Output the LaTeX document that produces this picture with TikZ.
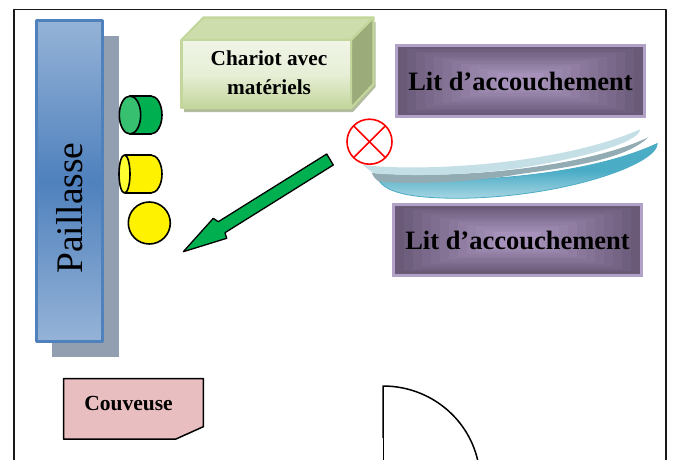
\documentclass[tikz,border=0pt]{standalone}
\usepackage{fontspec}
\setmainfont{Liberation Serif}
\definecolor{paillasseblue}{HTML}{4F81BD}
\definecolor{paillasselight}{HTML}{95B3D7}
\definecolor{shadowgrey}{HTML}{929FB0}
\definecolor{chariotedge}{HTML}{C3D69B}
\definecolor{chariottop}{HTML}{CDDDAC}
\definecolor{chariotside}{HTML}{9BAB7A}
\definecolor{chariotshadow}{HTML}{B4BC9E}
\definecolor{litdark}{HTML}{6A5A78}
\definecolor{litlight}{HTML}{A591B9}
\definecolor{litedge}{HTML}{B3A2C7}
\definecolor{couveusepink}{HTML}{E8BEC1}
\definecolor{arrowgreen}{HTML}{00B050}
\definecolor{cylgreen}{HTML}{36C070}
\definecolor{cylyellow}{HTML}{FFFF30}
\definecolor{rideaublue}{HTML}{4BACC6}
\definecolor{rideaulight}{HTML}{A5D5E2}
\definecolor{rideaugrey}{HTML}{93ACB4}
\definecolor{rideaupale}{HTML}{C4DFE6}
\tikzset{
	label big/.style={font=\fontsize{26.5}{30}\selectfont\bfseries,text=black},
	label small/.style={font=\fontsize{21.3}{29}\selectfont\bfseries,text=black,align=center},
	obj/.style={draw=black,line width=1.6pt}
}
\begin{document}
\begin{tikzpicture}[x=1pt,y=-1pt,line join=round]
		\useasboundingbox (0,0) rectangle (675,460);
		\clip (0,0) rectangle (675,460);
		% room and door
		\draw[line width=1.9pt,black!90] (14,470)--(14,9.5)--(666,9.5)--(666,470);
		\draw[line width=1.5pt] (383,438)--(383,386) arc[start angle=-90,end angle=0,x radius=97,y radius=95];
		\draw[line width=.7pt] (383,438)--(383,470);
		% paillasse
		\fill[shadowgrey] (52,36) rectangle (119,357);
		\shade[top color=paillasselight,bottom color=paillasselight,middle color=paillasseblue] (36.5,20.5) rectangle (102.5,341.5);
		\draw[paillasseblue,line width=2.2pt] (36.5,20.5) rectangle (102.5,341.5);
		\node[rotate=90,font=\fontsize{37.5}{37}\selectfont] (paillasse) at (70,208) {Paillasse};
		% cylinders and ball
		\draw[obj,fill=arrowgreen] (130,96)--(151,96) arc[start angle=-90,end angle=90,x radius=11,y radius=19]--(130,134)--cycle;
		\draw[obj,fill=cylgreen] (130,115) ellipse [x radius=10.7,y radius=19];
		\draw[obj,fill=yellow] (125,155)--(151,155) arc[start angle=-90,end angle=90,x radius=11,y radius=19]--(125,193)--cycle;
		\draw[obj,fill=cylyellow] (124.5,174) ellipse [x radius=5.5,y radius=19];
		\draw[obj,fill=yellow] (149.3,223) circle (21);
		% chariot
		\fill[chariotshadow] (184,44)--(375.6,22)--(375.6,87)--(353,112)--(184,112)--cycle;
		\draw[chariotedge,line width=2.2pt,fill=chariottop] (181.5,40)--(203.5,17.5)--(373.5,17.5)--(351,40)--cycle;
		\draw[chariotedge,line width=2.2pt,fill=chariotside] (351,40)--(373.5,17.5)--(373.5,84)--(351,108)--cycle;
		\shade[shading angle=60,bottom color=chariotedge,top color=chariotedge!25,middle color=chariotedge!40] (181.5,40) rectangle (351,108);
		\draw[chariotedge,line width=2.2pt] (181.5,40) rectangle (351,108);
		\node[label small] (chariot) at (269,73) {Chariot avec\\matériels};
		% lits
		\foreach \bx/\by/\nm in {395/44/lita,392/202.5/litb}{
			\begin{scope}[shift={(\bx,\by)}]
			\fill[litedge] (0,0) rectangle (250.5,74);
			\foreach \i in {0,...,11}{
				\pgfmathsetmacro\p{100*\i/11}
				\fill[litlight!\p!litdark] ({3+\i*9},{3+\i*2.4}) rectangle ({247.5-\i*9},{71-\i*2.4});
			};
			\node[label big] (\nm) at (125.5,37.5) {Lit d’accouchement};
			\end{scope}};
		% croix
		\draw[red,line width=1.6pt] (369.5,141.7) circle (22.5);
		\draw[red,line width=1.6pt] (369.5,141.7)+(-15.9,-15.9)--+(15.9,15.9) (369.5,141.7)+(-15.9,15.9)--+(15.9,-15.9);
		% rideau
		\shade[top color=rideaublue,bottom color=rideaulight,middle color=rideaublue,draw=rideaublue,line width=.8pt] (377.7,178.3) .. controls (470,185) and (590,175) .. (657.3,143.5) .. controls (657,165) and (560,198) .. (456.7,198.3) .. controls (420,198) and (385,195) .. cycle;
		\fill[rideaugrey] (371.7,173) .. controls (470,180) and (590,165) .. (648.3,137.3) .. controls (630,155) and (590,165) .. (520,174) .. controls (470,183) and (400,185) .. (378,181) .. controls (375,179) and (373,176) .. cycle;
		\fill[rideaupale] (362.7,165) .. controls (420,172) and (560,165) .. (640,129.3) .. controls (640,140) and (600,155) .. (520,168) .. controls (470,175) and (410,177) .. (373,173)--cycle;
		% couveuse
		\draw[line width=1.5pt,fill=couveusepink] (63.5,378.5)--(203.3,378.5)--(203.3,426.7)--(176,439)--(63.5,439)--cycle;
		\node[font=\fontsize{21.5}{21}\selectfont\bfseries] (couveuse) at (128.5,403.5) {Couveuse};
		% fleche
		\draw[line width=1.3pt,fill=arrowgreen] (326.7,154)--(333.3,165)--(225,232.7)--(226.7,238.3)--(183.3,251.7)--(213.3,218.3)--(218.3,221.7)--cycle;
		\end{tikzpicture}
\end{document}
